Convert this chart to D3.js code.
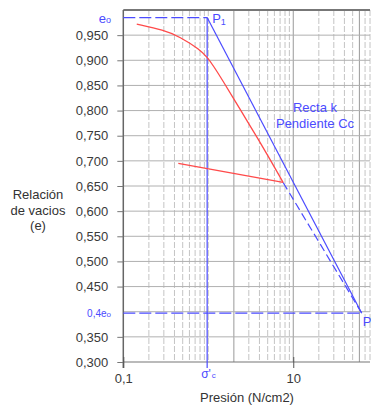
<!DOCTYPE html>
<html>
<head>
<meta charset="utf-8">
<script src="https://cdn.jsdelivr.net/npm/d3@7"></script>
<style>
  body { margin: 0; background: #fff; }
  svg { display: block; font-family: "Liberation Sans", Arial, sans-serif; }
</style>
</head>
<body>
<div id="chart"></div>
<script>
// curva de carga (laboratorio)
const loadP = [0.144, 0.30, 0.46, 0.80, 0.97, 1.15, 1.5, 2.05, 2.83, 3.87, 5.32, 6.98, 7.6];
const loadE = [0.972, 0.960, 0.947, 0.921, 0.906, 0.889, 0.858, 0.820, 0.781, 0.743, 0.703, 0.668, 0.657];
// descarga
const unloadP = [7.6, 0.444];
const unloadE = [0.657, 0.695];

const e0 = 0.985;        // e0
const sigmaC = 0.97;     // σ'c
const pEnd = 64;         // punto P
const eEnd = 0.397;      // 0,4 e0

const yTicks = [0.30, 0.35, 0.45, 0.50, 0.55, 0.60, 0.65, 0.70, 0.75, 0.80, 0.85, 0.90, 0.95];
const yGrid = [0.35, 0.40, 0.45, 0.50, 0.55, 0.60, 0.65, 0.70, 0.75, 0.80, 0.85, 0.90, 0.95];
const xTickVals = [0.1, 10];
const xTickLabels = ['0,1', '10'];
const xMinor = [0.2, 0.3, 0.4, 0.5, 0.6, 0.7, 0.8, 0.9, 1, 3, 4, 5, 6, 7, 8, 9, 20, 30, 40, 50, 70, 80];
const xMajor = [2, 10, 60];

const width = 371, height = 405;
const margin = { left: 123.3, top: 10, right: 1, bottom: 43 };
const blue = '#4b4bff', red = '#ff4a4a';

const svg = d3.select('#chart').append('svg')
  .attr('width', width)
  .attr('height', height);

const x = d3.scaleLog().domain([0.1, 80]).range([margin.left, 370]);
const y = d3.scaleLinear().domain([0.3, 1.0]).range([height - margin.bottom, margin.top]);

const x0 = x.range()[0], x1 = x.range()[1];
const yb = y(0.3), yt = y(1.0);

// rejilla
svg.append('g')
  .selectAll('line')
  .data(xMinor)
  .join('line')
  .attr('x1', d => x(d)).attr('x2', d => x(d))
  .attr('y1', yt).attr('y2', yb)
  .attr('stroke', '#c4c4c4')
  .attr('stroke-dasharray', '6,2');

svg.append('g')
  .selectAll('line')
  .data(xMajor)
  .join('line')
  .attr('x1', d => x(d)).attr('x2', d => x(d))
  .attr('y1', yt).attr('y2', yb)
  .attr('stroke', '#999');

svg.append('g')
  .selectAll('line')
  .data(yGrid)
  .join('line')
  .attr('x1', x0).attr('x2', x1)
  .attr('y1', d => y(d)).attr('y2', d => y(d))
  .attr('stroke', '#b0b0b0');

// marco
svg.append('line')
  .attr('x1', x0).attr('x2', x1).attr('y1', yt).attr('y2', yt)
  .attr('stroke', '#777').attr('stroke-width', 2);
svg.append('line')
  .attr('x1', x0).attr('x2', x1).attr('y1', yb).attr('y2', yb)
  .attr('stroke', '#777').attr('stroke-width', 1.2);

// eje Y
svg.append('g')
  .attr('transform', `translate(${x0},0)`)
  .call(d3.axisLeft(y).tickValues(yTicks).tickSize(6).tickSizeOuter(0)
    .tickFormat(d => d3.format('.3f')(d).replace('.', ',')))
  .call(g => g.select('.domain').attr('stroke', '#666').attr('stroke-width', 1.5)
    .attr('d', `M0,${yt}V${yb + 6}`))
  .call(g => g.selectAll('.tick line').attr('stroke', '#777'))
  .call(g => g.selectAll('.tick text')
    .attr('x', -15)
    .attr('fill', '#3a3a3a')
    .attr('font-size', 13)
    .attr('font-family', '"Liberation Sans", Arial, sans-serif'));

// eje X
svg.append('g')
  .attr('transform', `translate(0,${yb})`)
  .call(d3.axisBottom(x).tickValues(xTickVals).tickSize(6).tickSizeOuter(0)
    .tickFormat((d, i) => xTickLabels[i]))
  .call(g => g.select('.domain').remove())
  .call(g => g.selectAll('.tick line').attr('stroke', '#555').attr('y1', -5))
  .call(g => g.selectAll('.tick text')
    .attr('y', 12)
    .attr('fill', '#3a3a3a')
    .attr('font-size', 13)
    .attr('font-family', '"Liberation Sans", Arial, sans-serif'));

// líneas azules
svg.append('line')
  .attr('x1', x0).attr('x2', x(sigmaC))
  .attr('y1', y(e0)).attr('y2', y(e0))
  .attr('stroke', blue).attr('stroke-width', 1.2)
  .attr('stroke-dasharray', '12,4');

svg.append('line')
  .attr('x1', x0).attr('x2', x(pEnd))
  .attr('y1', y(eEnd)).attr('y2', y(eEnd))
  .attr('stroke', blue).attr('stroke-width', 1.2)
  .attr('stroke-dasharray', '12,4');

svg.append('line')
  .attr('x1', x(sigmaC)).attr('x2', x(sigmaC))
  .attr('y1', y(e0)).attr('y2', yb + 6)
  .attr('stroke', blue).attr('stroke-width', 1.2);

svg.append('line')
  .attr('x1', x(sigmaC)).attr('x2', x(pEnd))
  .attr('y1', y(e0)).attr('y2', y(eEnd))
  .attr('stroke', blue).attr('stroke-width', 1.2);

svg.append('line')
  .attr('x1', x(loadP[loadP.length - 1])).attr('x2', x(pEnd))
  .attr('y1', y(loadE[loadE.length - 1])).attr('y2', y(eEnd))
  .attr('stroke', blue).attr('stroke-width', 1.2)
  .attr('stroke-dasharray', '8,4');

// curva roja
const line = d3.line()
  .x(d => x(d[0]))
  .y(d => y(d[1]))
  .curve(d3.curveBasis);

svg.append('path')
  .datum(loadP.map((p, i) => [p, loadE[i]]))
  .attr('d', line)
  .attr('fill', 'none')
  .attr('stroke', red)
  .attr('stroke-width', 1.3);

svg.append('path')
  .datum(unloadP.map((p, i) => [p, unloadE[i]]))
  .attr('d', d3.line().x(d => x(d[0])).y(d => y(d[1])))
  .attr('fill', 'none')
  .attr('stroke', red)
  .attr('stroke-width', 1.3);

// textos azules
const eoLabel = svg.append('text')
  .attr('x', 111).attr('y', y(e0) + 5)
  .attr('text-anchor', 'end')
  .attr('fill', blue)
  .attr('font-size', 13);
eoLabel.append('tspan').text('e');
eoLabel.append('tspan').attr('font-size', 9).text('o');

const e4Label = svg.append('text')
  .attr('x', 111).attr('y', y(eEnd) + 4)
  .attr('text-anchor', 'end')
  .attr('fill', blue)
  .attr('font-size', 10);
e4Label.append('tspan').text('0,4e');
e4Label.append('tspan').attr('font-size', 8).text('o');

const p1Label = svg.append('text')
  .attr('x', x(sigmaC) + 5).attr('y', y(e0) + 5)
  .attr('fill', blue)
  .attr('font-size', 13);
p1Label.append('tspan').text('P');
p1Label.append('tspan').attr('font-size', 9).attr('dy', 2).text('1');

svg.append('text')
  .attr('x', x(pEnd) + 1).attr('y', y(eEnd) + 13)
  .attr('fill', blue)
  .attr('font-size', 13)
  .text('P');

const sLabel = svg.append('text')
  .attr('x', x(sigmaC) - 6).attr('y', yb + 16)
  .attr('fill', blue)
  .attr('font-size', 12);
sLabel.append('tspan').text("σ'");
sLabel.append('tspan').attr('font-size', 8).attr('dx', 1).text('c');

svg.append('text')
  .attr('x', 315).attr('y', 112)
  .attr('text-anchor', 'middle')
  .attr('fill', blue)
  .attr('font-size', 13)
  .text('Recta k');

svg.append('text')
  .attr('x', 315).attr('y', 128)
  .attr('text-anchor', 'middle')
  .attr('fill', blue)
  .attr('font-size', 13)
  .text('Pendiente Cc');

// títulos de ejes
svg.append('text')
  .attr('text-anchor', 'middle')
  .attr('fill', '#333')
  .attr('font-size', 13)
  .selectAll('tspan')
  .data(['Relación', 'de vacios', '(e)'])
  .join('tspan')
  .attr('x', 38)
  .attr('y', (d, i) => 199 + i * 15.5)
  .text(d => d);

svg.append('text')
  .attr('x', 247).attr('y', 402)
  .attr('text-anchor', 'middle')
  .attr('fill', '#333')
  .attr('font-size', 13)
  .text('Presión (N/cm2)');
</script>
</body>
</html>
